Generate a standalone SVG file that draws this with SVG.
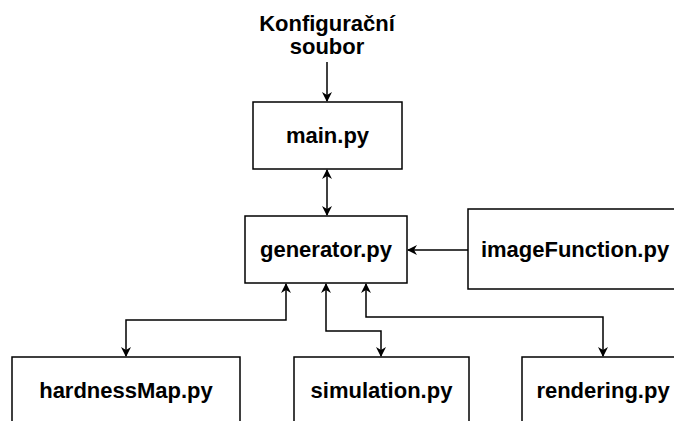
<svg xmlns="http://www.w3.org/2000/svg" width="674" height="421" viewBox="0 0 674 421">
<style>
.box{fill:#fff;stroke:#000;stroke-width:1.5}
.t{font-family:"Liberation Sans",Arial,sans-serif;font-weight:bold;font-size:22px;fill:#000;text-anchor:middle}
.c{fill:none;stroke:#000;stroke-width:1.5;marker-end:url(#ah)}
.b{marker-start:url(#ah)}
</style>
<defs>
<marker id="ah" viewBox="0 0 10 10" refX="9" refY="5" markerWidth="10" markerHeight="10" markerUnits="userSpaceOnUse" orient="auto-start-reverse">
<path d="M0,0 L10,5 L0,10 L3,5 z" fill="#000"/>
</marker>
</defs>
<rect width="674" height="421" fill="#fff"/>
<g id="config">
<text class="t" x="327" y="31">Konfigurační</text>
<text class="t" x="327" y="54">soubor</text>
</g>
<g id="main">
<rect class="box" x="253" y="102" width="149" height="67"/>
<text class="t" x="327.5" y="143">main.py</text>
</g>
<g id="generator">
<rect class="box" x="245" y="216" width="162" height="67"/>
<text class="t" x="326" y="257">generator.py</text>
</g>
<g id="imageFunction">
<rect class="box" x="468" y="209" width="214" height="80"/>
<text class="t" x="575" y="257">imageFunction.py</text>
</g>
<g id="hardnessMap">
<rect class="box" x="12" y="357" width="228" height="80"/>
<text class="t" x="126" y="398">hardnessMap.py</text>
</g>
<g id="simulation">
<rect class="box" x="294" y="357" width="175" height="80"/>
<text class="t" x="381.5" y="398">simulation.py</text>
</g>
<g id="rendering">
<rect class="box" x="522" y="357" width="162" height="80"/>
<text class="t" x="603" y="398">rendering.py</text>
</g>
<g id="connectors">
<path class="c" d="M327,62 L327,101"/>
<path class="c b" d="M327,170 L327,215"/>
<path class="c" d="M468,250 L408,250"/>
<path class="c b" d="M286,284 L286,320 L126,320 L126,356"/>
<path class="c b" d="M326,284 L326,331 L381,331 L381,356"/>
<path class="c b" d="M366,284 L366,317 L603,317 L603,356"/>
</g>
</svg>
